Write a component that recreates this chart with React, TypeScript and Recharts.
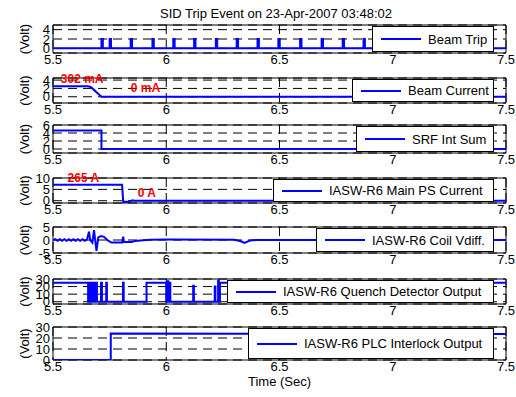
import { LineChart, Line, XAxis, YAxis, CartesianGrid, Legend, ReferenceArea, ReferenceDot } from "recharts"

const FONT = "'Liberation Sans', Arial, Helvetica, sans-serif"
const BLUE = "#0000ff"

const timeTicks = [5.5, 6, 6.5, 7, 7.5]

// Beam Trip: short 2 V pulses
const tripTimes = [5.714, 5.75, 5.843, 5.939, 6.031, 6.123, 6.219, 6.311, 6.403, 6.495, 6.591, 6.686, 6.779, 6.871]
const tripLevel = 2

// Beam Current
const beamCurrentT = [5.5, 5.655, 5.668, 5.714, 7.5]
const beamCurrentV = [2.5, 2.5, 2.3, 0, 0]

// SRF Int Sum
const srfEdges = [5.714]
const srfLevels = [0]
const srfStart = 4.6

// IASW-R6 Main PS Current
const psT = [5.5, 5.805, 5.81, 5.84, 5.85, 5.86, 7.5]
const psV = [7, 7, -0.5, -0.4, 0.2, 0, 0]

// IASW-R6 Coil Vdiff.
const coilT = [
  5.5, 5.51, 5.52, 5.53, 5.54, 5.55, 5.56, 5.57, 5.58, 5.59, 5.6, 5.61, 5.62, 5.63, 5.64, 5.65,
  5.659, 5.664, 5.674, 5.681, 5.692, 5.7, 5.712, 5.725, 5.74, 5.751, 5.758, 5.805, 5.81, 5.813,
  5.847, 5.86, 5.9, 5.93, 6.0, 6.3, 6.33, 6.345, 6.37, 6.4, 7.5,
]
const coilV = [
  0, 0.3, -0.3, 0.3, -0.3, 0.3, -0.3, 0.3, -0.3, 0.3, -0.3, 0.3, -0.3, 0.3, -0.3, 0.2,
  3.2, 0, -1, 3.8, -4.2, 1, 1.5, 1.2, 0, -0.6, -1, -1, 1.3, -0.8,
  -0.8, -0.4, -0.1, 0.1, 0.2, 0.1, -0.5, -1.1, -0.2, 0, 0,
]

// IASW-R6 Quench Detector Output
const quenchStart = 25
const quenchEdges = [
  5.655, 5.66, 5.665, 5.671, 5.675, 5.681, 5.685, 5.69, 5.694, 5.712, 5.716, 5.735, 5.738, 5.809, 5.812,
  5.913, 6.0, 6.005, 6.009, 6.014, 6.018, 6.119, 6.122, 6.214, 6.217, 6.229, 6.232, 6.237,
]
const quenchLevels = [
  0, 25, 0, 25, 0, 25, 0, 25, 0, 25, 0, 25, 0, 25, 0,
  25, 0, 27, 0, 25, 0, 21, 0, 20, 0, 28, 0, 25,
]

// IASW-R6 PLC Interlock Output
const plcT = [5.5, 5.755, 5.755, 7.5]
const plcV = [0, 0, 24, 23.7]

type Pt = { t: number; v: number }

const pairs = (ts: number[], vs: number[]): Pt[] => ts.map((t, i) => ({ t, v: vs[i] }))

function steps(v0: number, edges: number[], levels: number[]): Pt[] {
  const pts: Pt[] = [{ t: 5.5, v: v0 }]
  let cur = v0
  edges.forEach((t, i) => {
    pts.push({ t, v: cur })
    cur = levels[i]
    pts.push({ t, v: cur })
  })
  pts.push({ t: 7.5, v: cur })
  return pts
}

const tripEdges = tripTimes.flatMap((t) => [t, t + 0.006])
const tripLevels = tripTimes.flatMap(() => [tripLevel, 0])

type Note = { text: string; t: number; v: number }

type PanelCfg = {
  name: string
  data: Pt[]
  top: number
  h: number
  domain: [number, number]
  ticks: number[]
  legendLeft: number
  notes?: Note[]
  last?: boolean
}

const panels: PanelCfg[] = [
  { name: "Beam Trip", data: steps(0, tripEdges, tripLevels), top: 25, h: 28, domain: [-1, 5], ticks: [0, 2, 4], legendLeft: 372 },
  {
    name: "Beam Current",
    data: pairs(beamCurrentT, beamCurrentV),
    top: 78,
    h: 25,
    domain: [-1.5, 4.5],
    ticks: [0, 2, 4],
    legendLeft: 352,
    notes: [
      { text: "302 mA", t: 5.53, v: 4.4 },
      { text: "0 mA", t: 5.839, v: 2.1 },
    ],
  },
  { name: "SRF Int Sum", data: steps(srfStart, srfEdges, srfLevels), top: 125, h: 28, domain: [-1, 6], ticks: [0, 2, 4, 6], legendLeft: 356 },
  {
    name: "IASW-R6 Main PS Current",
    data: pairs(psT, psV),
    top: 178,
    h: 25,
    domain: [-1, 10],
    ticks: [0, 5, 10],
    legendLeft: 273,
    notes: [
      { text: "265 A", t: 5.56, v: 10 },
      { text: "0 A", t: 5.87, v: 3.5 },
    ],
  },
  { name: "IASW-R6 Coil Vdiff.", data: pairs(coilT, coilV), top: 227, h: 26, domain: [-5, 5], ticks: [-5, 0, 5], legendLeft: 316 },
  { name: "IASW-R6 Quench Detector Output", data: steps(quenchStart, quenchEdges, quenchLevels), top: 279, h: 25, domain: [-3, 30], ticks: [0, 10, 20, 30], legendLeft: 227 },
  { name: "IASW-R6 PLC Interlock Output", data: pairs(plcT, plcV), top: 327, h: 33, domain: [0, 30], ticks: [0, 10, 20, 30], legendLeft: 248, last: true },
]

const MT = 8
const LEGEND_RIGHT = 494

function legendBox(name: string) {
  return () => (
    <div
      style={{
        boxSizing: "border-box",
        width: "100%",
        height: "100%",
        border: "1px solid #000",
        background: "#fff",
        display: "flex",
        alignItems: "center",
        fontFamily: FONT,
        fontSize: 13,
        color: "#000",
      }}
    >
      <span style={{ display: "inline-block", marginLeft: 8, width: 40, height: 2, background: BLUE }} />
      <span style={{ marginLeft: 7, whiteSpace: "nowrap" }}>{name}</span>
    </div>
  )
}

const voltLabel = (props: any) => {
  const vb = props.viewBox || { y: 0, height: 0 }
  const cy = vb.y + vb.height / 2
  return (
    <text x={24} y={cy} transform={`rotate(-90 24 ${cy})`} textAnchor="middle" dominantBaseline="central" fontSize={13} fontFamily={FONT} fill="#000">
      (Volt)
    </text>
  )
}

function Panel({ cfg }: { cfg: PanelCfg }) {
  const xh = cfg.last ? 34 : 18
  const height = MT + cfg.h + xh
  const tickStyle = { fontSize: 13, fontFamily: FONT, fill: "#000" }
  return (
    <div style={{ position: "absolute", left: 0, top: cfg.top - MT }}>
      <LineChart width={516} height={height} data={cfg.data} margin={{ top: MT, right: 10, bottom: 0, left: 0 }}>
        <CartesianGrid stroke="#000" strokeDasharray="9 6" strokeWidth={1} />
        <XAxis
          dataKey="t"
          type="number"
          domain={[5.5, 7.5]}
          ticks={timeTicks}
          allowDataOverflow
          axisLine={false}
          tickLine={false}
          tickSize={0}
          tickMargin={2}
          height={xh}
          tick={tickStyle}
          interval={0}
          label={cfg.last ? { value: "Time (Sec)", position: "insideBottom", offset: 8, fontSize: 13, fontFamily: FONT, fill: "#000" } : undefined}
        />
        <YAxis
          type="number"
          domain={cfg.domain}
          ticks={cfg.ticks}
          allowDataOverflow
          axisLine={false}
          tickLine={false}
          tickSize={0}
          tickMargin={3}
          width={53}
          tick={tickStyle}
          interval={0}
          label={{ content: voltLabel }}
        />
        <ReferenceArea x1={5.5} x2={7.5} y1={cfg.domain[0]} y2={cfg.domain[1]} fill="none" stroke="#000" strokeWidth={1} ifOverflow="visible" />
        <Line dataKey="v" name={cfg.name} stroke={BLUE} strokeWidth={2} dot={false} type="linear" isAnimationActive={false} />
        {(cfg.notes || []).map((n) => (
          <ReferenceDot
            key={n.text}
            x={n.t}
            y={n.v}
            r={1}
            fill="none"
            stroke="none"
            ifOverflow="visible"
            label={{ value: n.text, position: "right", offset: 0, fill: "#ff0000", fontWeight: "bold", fontSize: 12, fontFamily: FONT }}
          />
        ))}
        <Legend
          layout="vertical"
          align="center"
          verticalAlign="middle"
          content={legendBox(cfg.name)}
          wrapperStyle={{ left: cfg.legendLeft, top: MT + 1, width: LEGEND_RIGHT - cfg.legendLeft, height: cfg.h - 2 }}
        />
      </LineChart>
    </div>
  )
}

export default function App() {
  return (
    <div style={{ position: "absolute", left: 0, top: 0, width: 516, height: 397, background: "#fff", fontFamily: FONT }}>
      <div style={{ position: "absolute", left: 50, top: 6, width: 452, textAlign: "center", fontSize: 13, lineHeight: "16px", color: "#000" }}>
        SID Trip Event on 23-Apr-2007 03:48:02
      </div>
      {panels.map((p) => (
        <Panel key={p.name} cfg={p} />
      ))}
    </div>
  )
}
